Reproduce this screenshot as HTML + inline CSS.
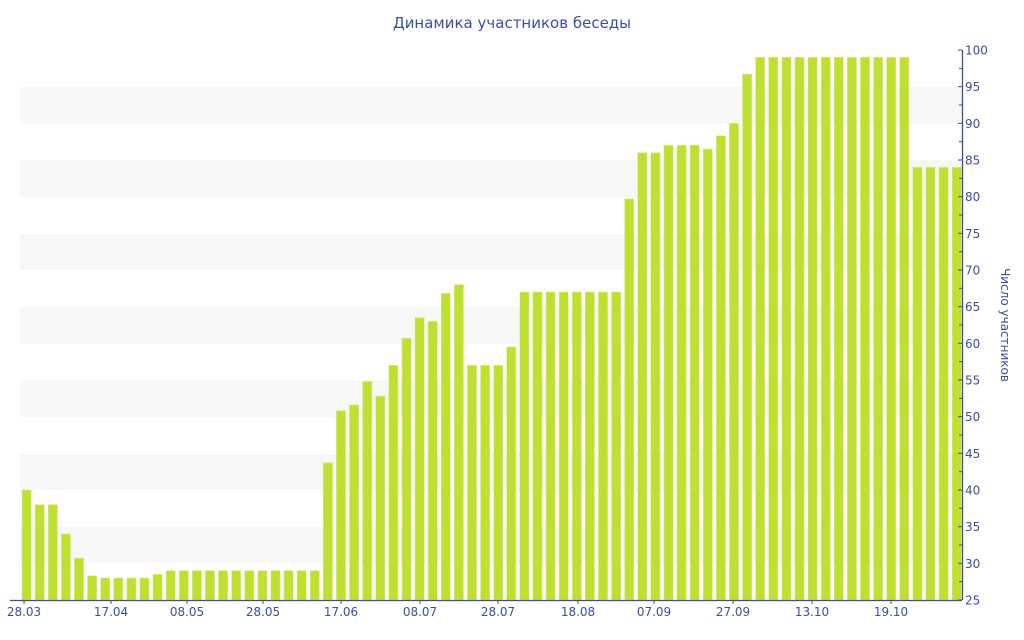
<!DOCTYPE html>
<html><head><meta charset="utf-8"><style>body{margin:0;background:#fff}svg{display:block}text{font-family:"DejaVu Sans","Liberation Sans",sans-serif;fill:#3d4e99}</style></head><body>
<svg width="1024" height="640" xmlns="http://www.w3.org/2000/svg">
<text x="512" y="28" font-size="15" text-anchor="middle">Динамика участников беседы</text>
<g fill="#f7f7f7">
<rect x="20" y="87" width="942" height="37"/><rect x="20" y="160" width="942" height="37"/><rect x="20" y="234" width="942" height="36"/><rect x="20" y="307" width="942" height="37"/><rect x="20" y="380" width="942" height="37"/><rect x="20" y="454" width="942" height="36"/><rect x="20" y="527" width="942" height="36"/>
</g>
<g id="bars" fill="#bde031" stroke="#d8ee8a" stroke-width="0.6"></g>
<line x1="10" y1="600.5" x2="962" y2="600.5" stroke="#3d4e99" stroke-width="1.3"/>
<line x1="962.5" y1="50" x2="962.5" y2="600" stroke="#3d4e99" stroke-width="1.3"/>
<g id="yt" stroke="#3d4e99"></g>
<g id="yl" font-size="12"></g>
<g id="xl" font-size="12" text-anchor="middle"></g>
<text transform="translate(1001,325) rotate(90)" font-size="12" text-anchor="middle">Число участников</text>
<script>
var v=[40,38,38,34,30.7,28.3,28,28,28,28,28.5,29,29,29,29,29,29,29,29,29,29,29,29,43.7,50.8,51.6,54.8,52.8,57,60.7,63.5,63,66.8,68,57,57,57,59.5,67,67,67,67,67,67,67,67,79.7,86,86,87,87,87,86.5,88.3,90,96.7,99,99,99,99,99,99,99,99,99,99,99,99,84,84,84,84];
var ns="http://www.w3.org/2000/svg";
function Y(x){return 600-(x-25)*7.3333;}
var g=document.getElementById('bars');
v.forEach(function(d,i){var r=document.createElementNS(ns,'rect');var c=26.6+i*13.1;r.setAttribute('x',c-4.6);r.setAttribute('width',9.2);r.setAttribute('y',Y(d));r.setAttribute('height',600-Y(d));g.appendChild(r);});
var t=document.getElementById('yt'),l=document.getElementById('yl');
for(var k=25;k<=100;k+=2.5){var y=Y(k);var ln=document.createElementNS(ns,'line');ln.setAttribute('x1',k%5==0?958:959);ln.setAttribute('x2',962);ln.setAttribute('y1',y);ln.setAttribute('y2',y);t.appendChild(ln);
if(k%5==0){var tx=document.createElementNS(ns,'text');tx.setAttribute('x',965);tx.setAttribute('y',y+4.5);tx.textContent=k;l.appendChild(tx);}}
var xl=document.getElementById('xl');
[["28.03",24],["17.04",111],["08.05",187],["28.05",263],["17.06",341],["08.07",420],["28.07",498],["18.08",578],["07.09",654],["27.09",733],["13.10",812],["19.10",891]].forEach(function(a){var tx=document.createElementNS(ns,'text');tx.setAttribute('x',a[1]);tx.setAttribute('y',616);tx.textContent=a[0];xl.appendChild(tx);var ln=document.createElementNS(ns,'line');ln.setAttribute('x1',a[1]);ln.setAttribute('x2',a[1]);ln.setAttribute('y1',600);ln.setAttribute('y2',604);ln.setAttribute('stroke','#3d4e99');xl.appendChild(ln);});
</script>
</svg>
</body></html>
